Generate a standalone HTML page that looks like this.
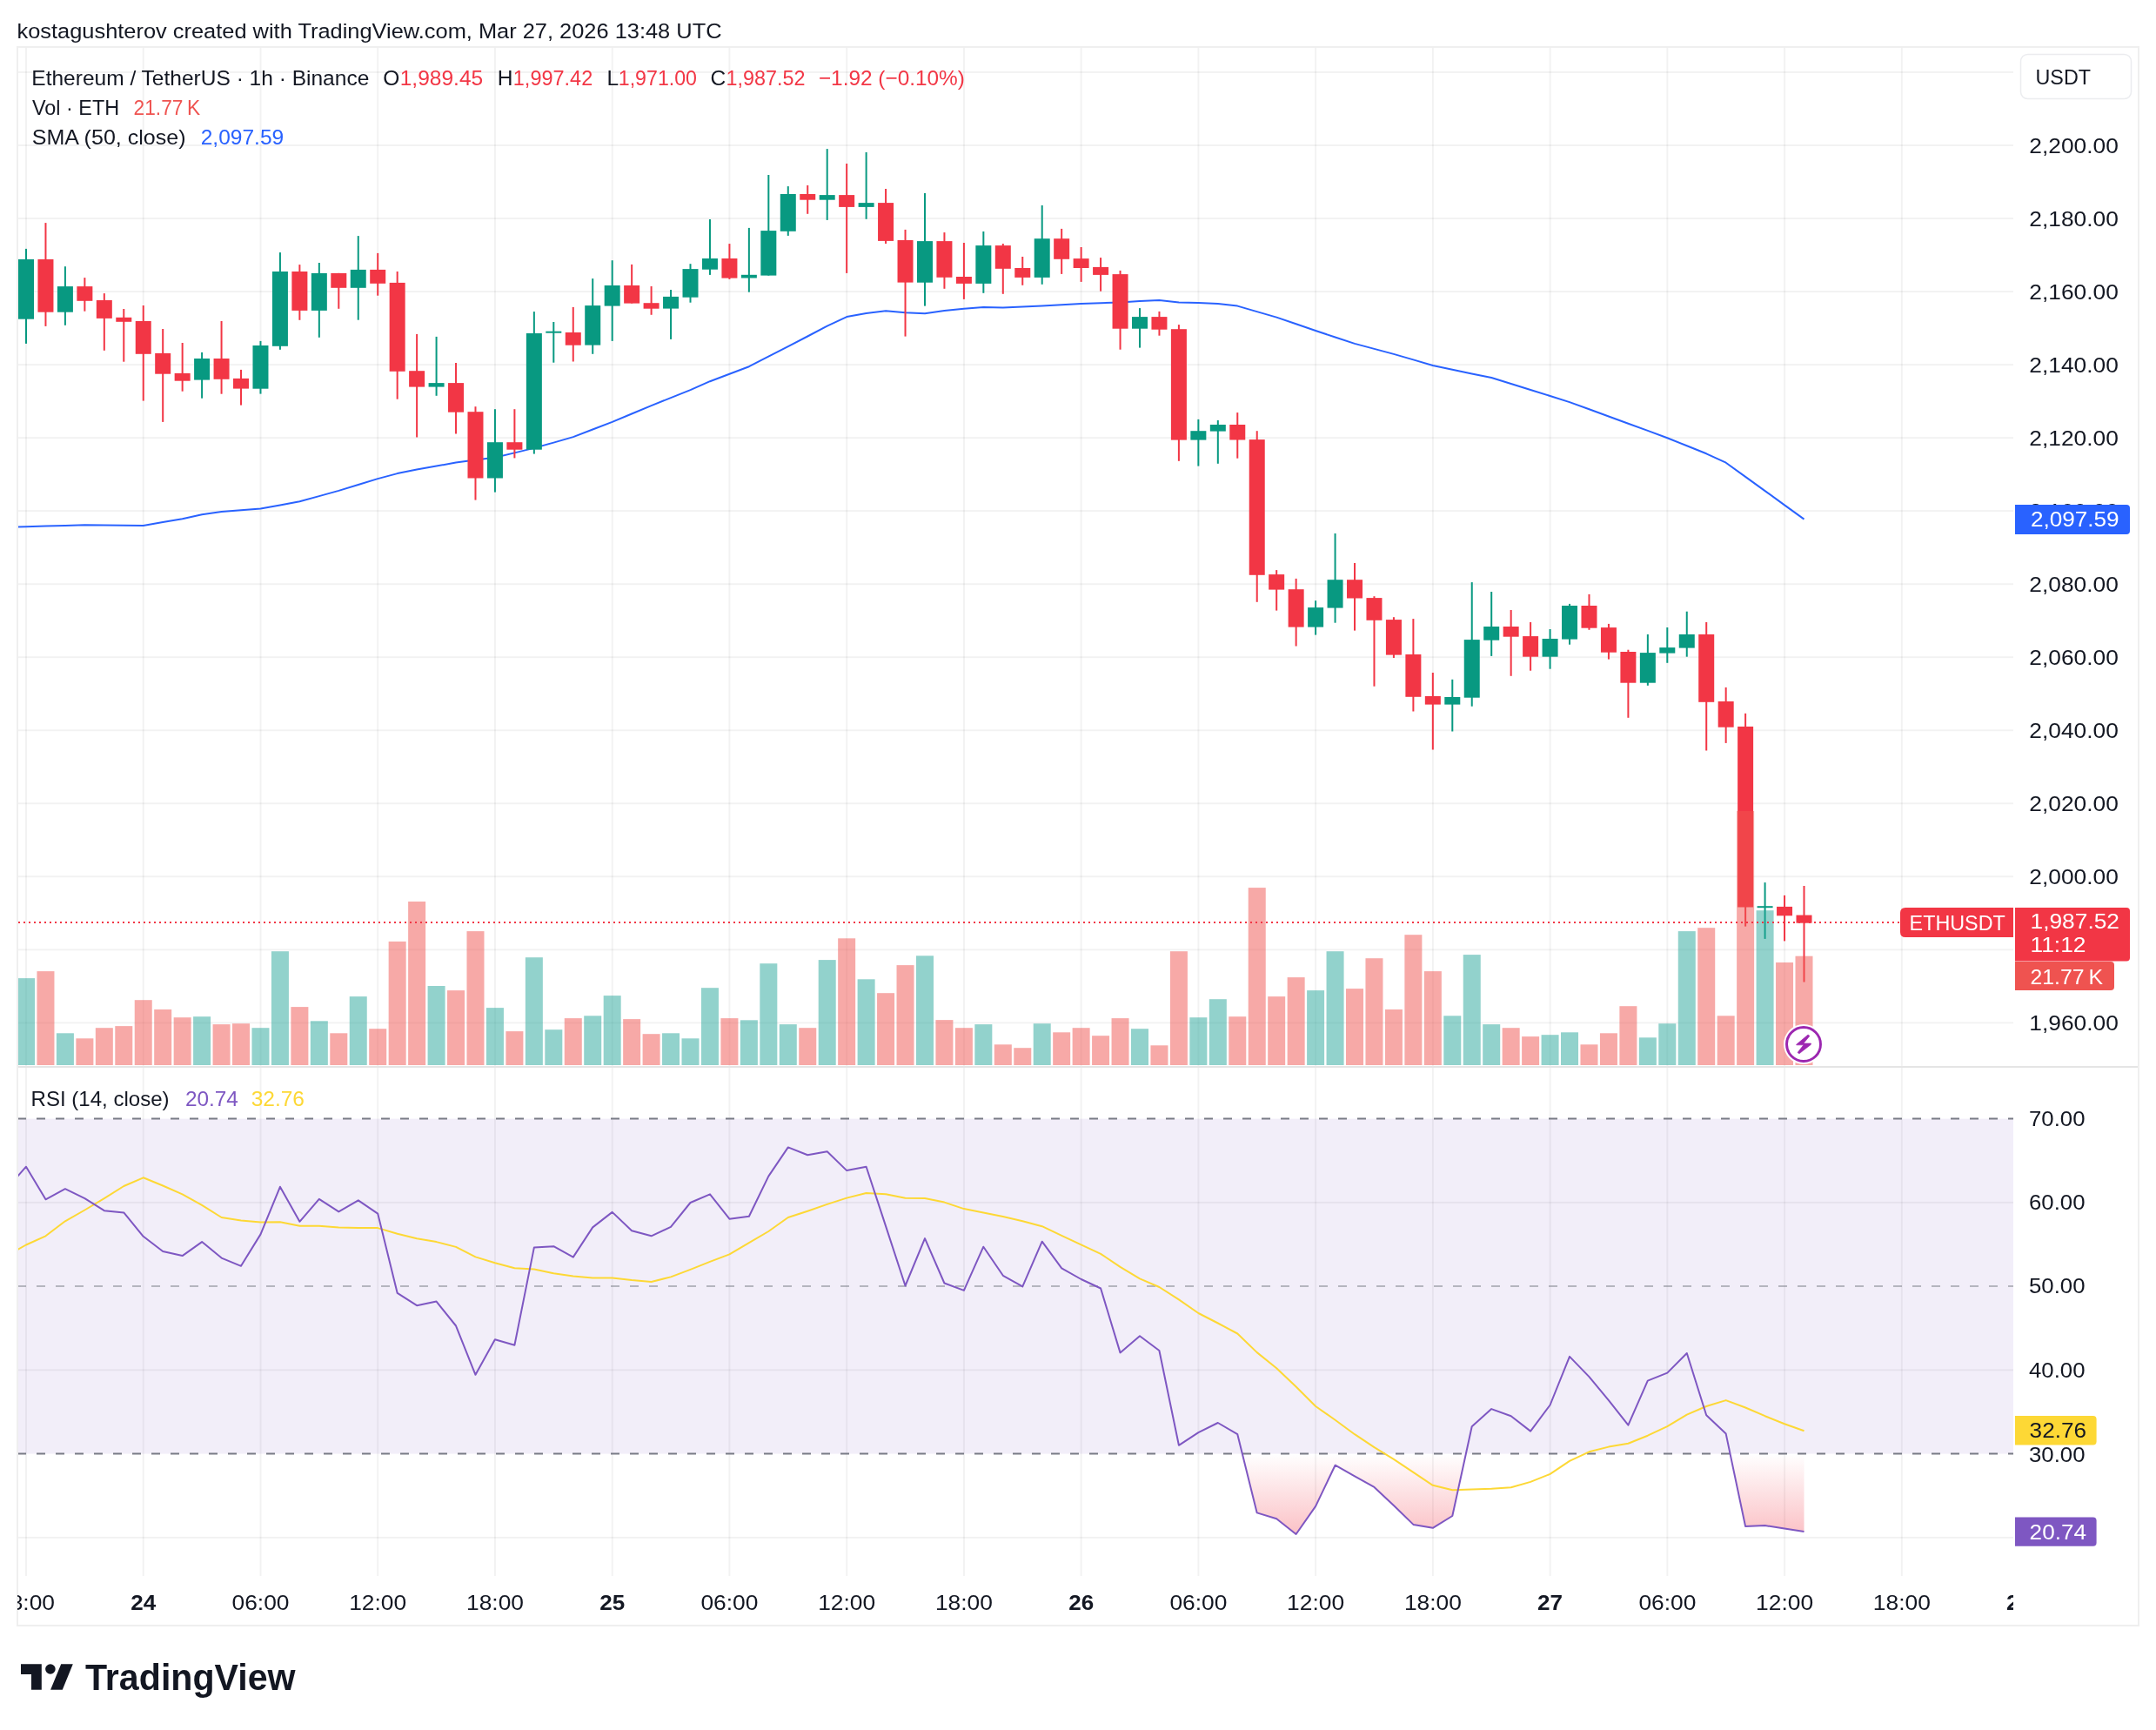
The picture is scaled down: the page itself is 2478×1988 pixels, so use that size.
<!DOCTYPE html><html><head><meta charset="utf-8"><style>html,body{margin:0;padding:0;background:#fff;}svg{display:block;font-family:"Liberation Sans", sans-serif;}</style></head><body>
<svg width="2478" height="1988" viewBox="0 0 2478 1988">
<rect x="0" y="0" width="2478" height="1988" fill="#ffffff"/>
<defs>
<clipPath id="cmain"><rect x="20" y="54" width="2294" height="1172"/></clipPath>
<clipPath id="crsi"><rect x="20" y="1226" width="2294" height="585"/></clipPath>
<clipPath id="ctime"><rect x="20" y="1811" width="2294" height="57"/></clipPath>
<clipPath id="cbelow30"><rect x="20" y="1670.9" width="2294" height="140.0999999999999"/></clipPath>
<linearGradient id="gpink" gradientUnits="userSpaceOnUse" x1="0" y1="1671" x2="0" y2="1767"><stop offset="0" stop-color="#f23645" stop-opacity="0"/><stop offset="1" stop-color="#f23645" stop-opacity="0.32"/></linearGradient>
</defs>
<rect x="29.00" y="54" width="2" height="1757" fill="rgba(0,0,0,0.052)"/>
<rect x="163.74" y="54" width="2" height="1757" fill="rgba(0,0,0,0.052)"/>
<rect x="298.48" y="54" width="2" height="1757" fill="rgba(0,0,0,0.052)"/>
<rect x="433.22" y="54" width="2" height="1757" fill="rgba(0,0,0,0.052)"/>
<rect x="567.96" y="54" width="2" height="1757" fill="rgba(0,0,0,0.052)"/>
<rect x="702.70" y="54" width="2" height="1757" fill="rgba(0,0,0,0.052)"/>
<rect x="837.44" y="54" width="2" height="1757" fill="rgba(0,0,0,0.052)"/>
<rect x="972.18" y="54" width="2" height="1757" fill="rgba(0,0,0,0.052)"/>
<rect x="1106.92" y="54" width="2" height="1757" fill="rgba(0,0,0,0.052)"/>
<rect x="1241.66" y="54" width="2" height="1757" fill="rgba(0,0,0,0.052)"/>
<rect x="1376.40" y="54" width="2" height="1757" fill="rgba(0,0,0,0.052)"/>
<rect x="1511.14" y="54" width="2" height="1757" fill="rgba(0,0,0,0.052)"/>
<rect x="1645.88" y="54" width="2" height="1757" fill="rgba(0,0,0,0.052)"/>
<rect x="1780.62" y="54" width="2" height="1757" fill="rgba(0,0,0,0.052)"/>
<rect x="1915.36" y="54" width="2" height="1757" fill="rgba(0,0,0,0.052)"/>
<rect x="2050.10" y="54" width="2" height="1757" fill="rgba(0,0,0,0.052)"/>
<rect x="2184.84" y="54" width="2" height="1757" fill="rgba(0,0,0,0.052)"/>
<rect x="20" y="81.97" width="2294" height="2" fill="rgba(0,0,0,0.052)"/>
<rect x="20" y="166.00" width="2294" height="2" fill="rgba(0,0,0,0.052)"/>
<rect x="20" y="250.03" width="2294" height="2" fill="rgba(0,0,0,0.052)"/>
<rect x="20" y="334.06" width="2294" height="2" fill="rgba(0,0,0,0.052)"/>
<rect x="20" y="418.09" width="2294" height="2" fill="rgba(0,0,0,0.052)"/>
<rect x="20" y="502.12" width="2294" height="2" fill="rgba(0,0,0,0.052)"/>
<rect x="20" y="586.15" width="2294" height="2" fill="rgba(0,0,0,0.052)"/>
<rect x="20" y="670.18" width="2294" height="2" fill="rgba(0,0,0,0.052)"/>
<rect x="20" y="754.21" width="2294" height="2" fill="rgba(0,0,0,0.052)"/>
<rect x="20" y="838.24" width="2294" height="2" fill="rgba(0,0,0,0.052)"/>
<rect x="20" y="922.27" width="2294" height="2" fill="rgba(0,0,0,0.052)"/>
<rect x="20" y="1006.30" width="2294" height="2" fill="rgba(0,0,0,0.052)"/>
<rect x="20" y="1090.33" width="2294" height="2" fill="rgba(0,0,0,0.052)"/>
<rect x="20" y="1174.36" width="2294" height="2" fill="rgba(0,0,0,0.052)"/>
<rect x="20" y="1380.85" width="2294" height="2" fill="rgba(0,0,0,0.052)"/>
<rect x="20" y="1573.35" width="2294" height="2" fill="rgba(0,0,0,0.052)"/>
<rect x="20" y="1765.85" width="2294" height="2" fill="rgba(0,0,0,0.052)"/>
<g clip-path="url(#cmain)">
<polyline points="7.5,605.9 30.0,605.2 52.5,604.6 74.9,603.9 97.4,603.2 119.8,603.5 142.3,603.8 164.7,604.0 187.2,600.1 209.6,596.2 232.1,591.3 254.6,587.9 277.0,586.3 299.5,584.6 321.9,580.4 344.4,576.3 366.8,570.1 389.3,563.9 411.8,557.0 434.2,550.1 456.7,544.1 479.1,539.6 501.6,535.6 524.0,531.5 546.5,528.6 568.9,525.8 591.4,520.4 613.9,514.9 636.3,508.6 658.8,502.1 681.2,493.5 703.7,484.9 726.1,475.5 748.6,466.1 771.0,457.1 793.5,448.1 816.0,438.2 838.4,429.7 860.9,421.2 883.3,409.7 905.8,398.2 928.2,386.5 950.7,374.7 973.2,364.1 995.6,360.1 1018.1,357.2 1040.5,359.3 1063.0,360.2 1085.4,357.1 1107.9,354.8 1130.3,353.1 1152.8,353.5 1175.3,352.5 1197.7,351.4 1220.2,350.2 1242.6,348.9 1265.1,348.2 1287.5,347.4 1310.0,346.1 1332.4,345.0 1354.9,347.4 1377.4,348.1 1399.8,348.9 1422.3,351.6 1444.7,358.1 1467.2,364.6 1489.6,372.3 1512.1,380.0 1534.6,387.5 1557.0,394.9 1579.5,400.9 1601.9,406.9 1624.4,413.4 1646.8,420.0 1669.3,424.8 1691.7,429.4 1714.2,434.0 1736.7,441.0 1759.1,448.0 1781.6,455.0 1804.0,462.1 1826.5,470.2 1848.9,478.5 1871.4,486.7 1893.8,494.9 1916.3,503.2 1938.8,512.3 1961.2,521.3 1983.7,531.7 2006.1,547.9 2028.6,564.1 2051.0,580.4 2073.5,596.6" fill="none" stroke="#2962ff" stroke-width="2" stroke-linejoin="round"/>
<rect x="29.00" y="285.9" width="2" height="109.0" fill="#089981"/>
<rect x="21.00" y="298.0" width="18" height="68.7" fill="#089981"/>
<rect x="51.46" y="256.1" width="2" height="118.8" fill="#f23645"/>
<rect x="43.46" y="298.0" width="18" height="60.7" fill="#f23645"/>
<rect x="73.91" y="306.2" width="2" height="67.6" fill="#089981"/>
<rect x="65.91" y="329.1" width="18" height="29.6" fill="#089981"/>
<rect x="96.37" y="319.1" width="2" height="38.6" fill="#f23645"/>
<rect x="88.37" y="329.1" width="18" height="16.7" fill="#f23645"/>
<rect x="118.82" y="337.1" width="2" height="65.7" fill="#f23645"/>
<rect x="110.82" y="345.0" width="18" height="20.9" fill="#f23645"/>
<rect x="141.28" y="355.0" width="2" height="60.7" fill="#f23645"/>
<rect x="133.28" y="364.8" width="18" height="5.0" fill="#f23645"/>
<rect x="163.74" y="351.0" width="2" height="109.6" fill="#f23645"/>
<rect x="155.74" y="369.0" width="18" height="37.8" fill="#f23645"/>
<rect x="186.19" y="378.0" width="2" height="106.9" fill="#f23645"/>
<rect x="178.19" y="405.9" width="18" height="23.8" fill="#f23645"/>
<rect x="208.65" y="394.0" width="2" height="55.7" fill="#f23645"/>
<rect x="200.65" y="428.9" width="18" height="8.8" fill="#f23645"/>
<rect x="231.10" y="404.9" width="2" height="52.8" fill="#089981"/>
<rect x="223.10" y="412.0" width="18" height="24.6" fill="#089981"/>
<rect x="253.56" y="369.0" width="2" height="83.7" fill="#f23645"/>
<rect x="245.56" y="412.0" width="18" height="23.8" fill="#f23645"/>
<rect x="276.02" y="424.9" width="2" height="40.7" fill="#f23645"/>
<rect x="268.02" y="434.9" width="18" height="11.7" fill="#f23645"/>
<rect x="298.47" y="391.9" width="2" height="60.7" fill="#089981"/>
<rect x="290.47" y="397.0" width="18" height="49.7" fill="#089981"/>
<rect x="320.93" y="290.1" width="2" height="111.7" fill="#089981"/>
<rect x="312.93" y="312.0" width="18" height="85.8" fill="#089981"/>
<rect x="343.38" y="304.1" width="2" height="63.7" fill="#f23645"/>
<rect x="335.38" y="312.0" width="18" height="44.9" fill="#f23645"/>
<rect x="365.84" y="302.0" width="2" height="85.8" fill="#089981"/>
<rect x="357.84" y="313.9" width="18" height="43.0" fill="#089981"/>
<rect x="388.30" y="313.9" width="2" height="40.9" fill="#f23645"/>
<rect x="380.30" y="313.9" width="18" height="16.9" fill="#f23645"/>
<rect x="410.75" y="271.1" width="2" height="96.6" fill="#089981"/>
<rect x="402.75" y="309.9" width="18" height="20.9" fill="#089981"/>
<rect x="433.21" y="290.9" width="2" height="48.8" fill="#f23645"/>
<rect x="425.21" y="309.9" width="18" height="15.9" fill="#f23645"/>
<rect x="455.66" y="312.0" width="2" height="146.7" fill="#f23645"/>
<rect x="447.66" y="324.9" width="18" height="101.9" fill="#f23645"/>
<rect x="478.12" y="383.9" width="2" height="118.6" fill="#f23645"/>
<rect x="470.12" y="426.2" width="18" height="18.4" fill="#f23645"/>
<rect x="500.58" y="386.9" width="2" height="67.9" fill="#089981"/>
<rect x="492.58" y="440.1" width="18" height="4.5" fill="#089981"/>
<rect x="523.03" y="417.0" width="2" height="81.5" fill="#f23645"/>
<rect x="515.03" y="440.1" width="18" height="33.6" fill="#f23645"/>
<rect x="545.49" y="467.2" width="2" height="107.4" fill="#f23645"/>
<rect x="537.49" y="473.2" width="18" height="76.3" fill="#f23645"/>
<rect x="567.94" y="470.2" width="2" height="95.4" fill="#089981"/>
<rect x="559.94" y="508.2" width="18" height="41.3" fill="#089981"/>
<rect x="590.40" y="470.2" width="2" height="56.2" fill="#f23645"/>
<rect x="582.40" y="508.2" width="18" height="8.5" fill="#f23645"/>
<rect x="612.86" y="358.1" width="2" height="163.5" fill="#089981"/>
<rect x="604.86" y="383.0" width="18" height="133.7" fill="#089981"/>
<rect x="635.31" y="370.0" width="2" height="46.7" fill="#089981"/>
<rect x="627.31" y="380.7" width="18" height="2.0" fill="#089981"/>
<rect x="657.77" y="352.9" width="2" height="62.6" fill="#f23645"/>
<rect x="649.77" y="382.0" width="18" height="14.7" fill="#f23645"/>
<rect x="680.22" y="320.1" width="2" height="86.7" fill="#089981"/>
<rect x="672.22" y="351.1" width="18" height="45.5" fill="#089981"/>
<rect x="702.68" y="299.2" width="2" height="92.7" fill="#089981"/>
<rect x="694.68" y="328.0" width="18" height="23.6" fill="#089981"/>
<rect x="725.14" y="303.9" width="2" height="44.7" fill="#f23645"/>
<rect x="717.14" y="328.0" width="18" height="20.6" fill="#f23645"/>
<rect x="747.59" y="329.0" width="2" height="32.8" fill="#f23645"/>
<rect x="739.59" y="348.2" width="18" height="6.5" fill="#f23645"/>
<rect x="770.05" y="333.0" width="2" height="56.9" fill="#089981"/>
<rect x="762.05" y="340.9" width="18" height="13.7" fill="#089981"/>
<rect x="792.50" y="303.2" width="2" height="44.5" fill="#089981"/>
<rect x="784.50" y="309.1" width="18" height="32.6" fill="#089981"/>
<rect x="814.96" y="252.0" width="2" height="63.9" fill="#089981"/>
<rect x="806.96" y="297.0" width="18" height="12.7" fill="#089981"/>
<rect x="837.42" y="280.1" width="2" height="40.8" fill="#f23645"/>
<rect x="829.42" y="297.0" width="18" height="22.6" fill="#f23645"/>
<rect x="859.87" y="261.9" width="2" height="73.8" fill="#089981"/>
<rect x="851.87" y="315.8" width="18" height="3.7" fill="#089981"/>
<rect x="882.33" y="201.0" width="2" height="115.6" fill="#089981"/>
<rect x="874.33" y="265.1" width="18" height="51.5" fill="#089981"/>
<rect x="904.78" y="214.1" width="2" height="56.8" fill="#089981"/>
<rect x="896.78" y="223.0" width="18" height="42.8" fill="#089981"/>
<rect x="927.24" y="213.0" width="2" height="32.8" fill="#f23645"/>
<rect x="919.24" y="223.0" width="18" height="6.7" fill="#f23645"/>
<rect x="949.70" y="171.1" width="2" height="81.8" fill="#089981"/>
<rect x="941.70" y="224.1" width="18" height="5.6" fill="#089981"/>
<rect x="972.15" y="188.0" width="2" height="125.9" fill="#f23645"/>
<rect x="964.15" y="224.1" width="18" height="13.8" fill="#f23645"/>
<rect x="994.61" y="175.0" width="2" height="76.8" fill="#089981"/>
<rect x="986.61" y="233.1" width="18" height="4.8" fill="#089981"/>
<rect x="1017.06" y="217.0" width="2" height="63.0" fill="#f23645"/>
<rect x="1009.06" y="233.1" width="18" height="43.8" fill="#f23645"/>
<rect x="1039.52" y="263.9" width="2" height="122.7" fill="#f23645"/>
<rect x="1031.52" y="276.0" width="18" height="48.6" fill="#f23645"/>
<rect x="1061.98" y="222.0" width="2" height="129.6" fill="#089981"/>
<rect x="1053.98" y="277.1" width="18" height="47.6" fill="#089981"/>
<rect x="1084.43" y="267.1" width="2" height="64.7" fill="#f23645"/>
<rect x="1076.43" y="277.1" width="18" height="41.7" fill="#f23645"/>
<rect x="1106.89" y="279.0" width="2" height="64.9" fill="#f23645"/>
<rect x="1098.89" y="318.0" width="18" height="7.9" fill="#f23645"/>
<rect x="1129.34" y="266.0" width="2" height="70.8" fill="#089981"/>
<rect x="1121.34" y="282.1" width="18" height="43.8" fill="#089981"/>
<rect x="1151.80" y="280.0" width="2" height="57.8" fill="#f23645"/>
<rect x="1143.80" y="282.1" width="18" height="26.7" fill="#f23645"/>
<rect x="1174.26" y="295.0" width="2" height="32.8" fill="#f23645"/>
<rect x="1166.26" y="308.0" width="18" height="10.9" fill="#f23645"/>
<rect x="1196.71" y="236.0" width="2" height="90.8" fill="#089981"/>
<rect x="1188.71" y="274.2" width="18" height="44.7" fill="#089981"/>
<rect x="1219.17" y="262.9" width="2" height="52.0" fill="#f23645"/>
<rect x="1211.17" y="274.2" width="18" height="23.6" fill="#f23645"/>
<rect x="1241.62" y="284.0" width="2" height="39.9" fill="#f23645"/>
<rect x="1233.62" y="297.1" width="18" height="10.9" fill="#f23645"/>
<rect x="1264.08" y="296.1" width="2" height="38.6" fill="#f23645"/>
<rect x="1256.08" y="306.9" width="18" height="9.0" fill="#f23645"/>
<rect x="1286.54" y="310.9" width="2" height="90.8" fill="#f23645"/>
<rect x="1278.54" y="315.1" width="18" height="62.6" fill="#f23645"/>
<rect x="1308.99" y="354.1" width="2" height="45.5" fill="#089981"/>
<rect x="1300.99" y="364.1" width="18" height="13.6" fill="#089981"/>
<rect x="1331.45" y="357.9" width="2" height="27.8" fill="#f23645"/>
<rect x="1323.45" y="364.1" width="18" height="14.6" fill="#f23645"/>
<rect x="1353.90" y="373.1" width="2" height="156.7" fill="#f23645"/>
<rect x="1345.90" y="378.2" width="18" height="127.4" fill="#f23645"/>
<rect x="1376.36" y="481.9" width="2" height="53.7" fill="#089981"/>
<rect x="1368.36" y="495.2" width="18" height="10.4" fill="#089981"/>
<rect x="1398.82" y="483.0" width="2" height="49.8" fill="#089981"/>
<rect x="1390.82" y="488.0" width="18" height="7.6" fill="#089981"/>
<rect x="1421.27" y="474.1" width="2" height="52.6" fill="#f23645"/>
<rect x="1413.27" y="488.0" width="18" height="17.5" fill="#f23645"/>
<rect x="1443.73" y="495.2" width="2" height="196.6" fill="#f23645"/>
<rect x="1435.73" y="505.1" width="18" height="155.7" fill="#f23645"/>
<rect x="1466.18" y="655.1" width="2" height="46.5" fill="#f23645"/>
<rect x="1458.18" y="660.1" width="18" height="17.5" fill="#f23645"/>
<rect x="1488.64" y="664.9" width="2" height="77.6" fill="#f23645"/>
<rect x="1480.64" y="677.2" width="18" height="43.4" fill="#f23645"/>
<rect x="1511.10" y="690.2" width="2" height="39.4" fill="#089981"/>
<rect x="1503.10" y="698.1" width="18" height="22.5" fill="#089981"/>
<rect x="1533.55" y="613.0" width="2" height="102.7" fill="#089981"/>
<rect x="1525.55" y="666.2" width="18" height="32.4" fill="#089981"/>
<rect x="1556.01" y="647.0" width="2" height="77.6" fill="#f23645"/>
<rect x="1548.01" y="666.2" width="18" height="21.3" fill="#f23645"/>
<rect x="1578.46" y="685.2" width="2" height="103.5" fill="#f23645"/>
<rect x="1570.46" y="687.1" width="18" height="25.7" fill="#f23645"/>
<rect x="1600.92" y="709.2" width="2" height="46.8" fill="#f23645"/>
<rect x="1592.92" y="712.1" width="18" height="40.5" fill="#f23645"/>
<rect x="1623.38" y="711.1" width="2" height="106.4" fill="#f23645"/>
<rect x="1615.38" y="752.0" width="18" height="48.8" fill="#f23645"/>
<rect x="1645.83" y="773.0" width="2" height="88.5" fill="#f23645"/>
<rect x="1637.83" y="800.0" width="18" height="9.6" fill="#f23645"/>
<rect x="1668.29" y="780.8" width="2" height="59.7" fill="#089981"/>
<rect x="1660.29" y="801.0" width="18" height="8.6" fill="#089981"/>
<rect x="1690.74" y="669.1" width="2" height="142.6" fill="#089981"/>
<rect x="1682.74" y="735.1" width="18" height="66.6" fill="#089981"/>
<rect x="1713.20" y="680.0" width="2" height="73.9" fill="#089981"/>
<rect x="1705.20" y="720.0" width="18" height="15.7" fill="#089981"/>
<rect x="1735.66" y="701.0" width="2" height="75.8" fill="#f23645"/>
<rect x="1727.66" y="720.0" width="18" height="11.7" fill="#f23645"/>
<rect x="1758.11" y="715.0" width="2" height="55.7" fill="#f23645"/>
<rect x="1750.11" y="731.1" width="18" height="23.6" fill="#f23645"/>
<rect x="1780.57" y="723.0" width="2" height="45.7" fill="#089981"/>
<rect x="1772.57" y="734.0" width="18" height="20.7" fill="#089981"/>
<rect x="1803.02" y="693.9" width="2" height="46.8" fill="#089981"/>
<rect x="1795.02" y="696.0" width="18" height="38.6" fill="#089981"/>
<rect x="1825.48" y="682.9" width="2" height="40.9" fill="#f23645"/>
<rect x="1817.48" y="696.0" width="18" height="25.7" fill="#f23645"/>
<rect x="1847.94" y="716.9" width="2" height="40.7" fill="#f23645"/>
<rect x="1839.94" y="721.1" width="18" height="28.6" fill="#f23645"/>
<rect x="1870.39" y="746.7" width="2" height="78.1" fill="#f23645"/>
<rect x="1862.39" y="749.0" width="18" height="35.7" fill="#f23645"/>
<rect x="1892.85" y="729.0" width="2" height="58.8" fill="#089981"/>
<rect x="1884.85" y="750.1" width="18" height="34.6" fill="#089981"/>
<rect x="1915.30" y="721.0" width="2" height="40.8" fill="#089981"/>
<rect x="1907.30" y="744.1" width="18" height="6.5" fill="#089981"/>
<rect x="1937.76" y="702.7" width="2" height="52.0" fill="#089981"/>
<rect x="1929.76" y="729.0" width="18" height="15.6" fill="#089981"/>
<rect x="1960.22" y="715.0" width="2" height="147.5" fill="#f23645"/>
<rect x="1952.22" y="729.0" width="18" height="77.8" fill="#f23645"/>
<rect x="1982.67" y="789.9" width="2" height="64.0" fill="#f23645"/>
<rect x="1974.67" y="806.0" width="18" height="29.7" fill="#f23645"/>
<rect x="2005.13" y="819.8" width="2" height="244.8" fill="#f23645"/>
<rect x="1997.13" y="834.9" width="18" height="207.6" fill="#f23645"/>
<rect x="2027.58" y="1014.1" width="2" height="64.8" fill="#089981"/>
<rect x="2019.58" y="1041.2" width="18" height="2.0" fill="#089981"/>
<rect x="2050.04" y="1028.9" width="2" height="52.5" fill="#f23645"/>
<rect x="2042.04" y="1041.9" width="18" height="10.4" fill="#f23645"/>
<rect x="2072.50" y="1018.0" width="2" height="110.5" fill="#f23645"/>
<rect x="2064.50" y="1051.6" width="18" height="9.1" fill="#f23645"/>
<rect x="20.00" y="1124.1" width="20" height="99.9" fill="rgba(38,166,154,0.5)"/>
<rect x="42.46" y="1116.1" width="20" height="107.9" fill="rgba(239,83,80,0.5)"/>
<rect x="64.91" y="1187.3" width="20" height="36.7" fill="rgba(38,166,154,0.5)"/>
<rect x="87.37" y="1193.3" width="20" height="30.7" fill="rgba(239,83,80,0.5)"/>
<rect x="109.82" y="1181.2" width="20" height="42.8" fill="rgba(239,83,80,0.5)"/>
<rect x="132.28" y="1179.1" width="20" height="44.9" fill="rgba(239,83,80,0.5)"/>
<rect x="154.74" y="1149.2" width="20" height="74.8" fill="rgba(239,83,80,0.5)"/>
<rect x="177.19" y="1160.0" width="20" height="64.0" fill="rgba(239,83,80,0.5)"/>
<rect x="199.65" y="1169.2" width="20" height="54.8" fill="rgba(239,83,80,0.5)"/>
<rect x="222.10" y="1168.2" width="20" height="55.8" fill="rgba(38,166,154,0.5)"/>
<rect x="244.56" y="1177.1" width="20" height="46.9" fill="rgba(239,83,80,0.5)"/>
<rect x="267.02" y="1176.2" width="20" height="47.8" fill="rgba(239,83,80,0.5)"/>
<rect x="289.47" y="1181.2" width="20" height="42.8" fill="rgba(38,166,154,0.5)"/>
<rect x="311.93" y="1093.2" width="20" height="130.8" fill="rgba(38,166,154,0.5)"/>
<rect x="334.38" y="1157.1" width="20" height="66.9" fill="rgba(239,83,80,0.5)"/>
<rect x="356.84" y="1173.3" width="20" height="50.7" fill="rgba(38,166,154,0.5)"/>
<rect x="379.30" y="1187.3" width="20" height="36.7" fill="rgba(239,83,80,0.5)"/>
<rect x="401.75" y="1145.1" width="20" height="78.9" fill="rgba(38,166,154,0.5)"/>
<rect x="424.21" y="1182.2" width="20" height="41.8" fill="rgba(239,83,80,0.5)"/>
<rect x="446.66" y="1081.9" width="20" height="142.1" fill="rgba(239,83,80,0.5)"/>
<rect x="469.12" y="1036.0" width="20" height="188.0" fill="rgba(239,83,80,0.5)"/>
<rect x="491.58" y="1133.0" width="20" height="91.0" fill="rgba(38,166,154,0.5)"/>
<rect x="514.03" y="1138.1" width="20" height="85.9" fill="rgba(239,83,80,0.5)"/>
<rect x="536.49" y="1070.1" width="20" height="153.9" fill="rgba(239,83,80,0.5)"/>
<rect x="558.94" y="1158.1" width="20" height="65.9" fill="rgba(38,166,154,0.5)"/>
<rect x="581.40" y="1185.1" width="20" height="38.9" fill="rgba(239,83,80,0.5)"/>
<rect x="603.86" y="1100.2" width="20" height="123.8" fill="rgba(38,166,154,0.5)"/>
<rect x="626.31" y="1183.2" width="20" height="40.8" fill="rgba(38,166,154,0.5)"/>
<rect x="648.77" y="1170.1" width="20" height="53.9" fill="rgba(239,83,80,0.5)"/>
<rect x="671.22" y="1167.3" width="20" height="56.7" fill="rgba(38,166,154,0.5)"/>
<rect x="693.68" y="1144.1" width="20" height="79.9" fill="rgba(38,166,154,0.5)"/>
<rect x="716.14" y="1171.1" width="20" height="52.9" fill="rgba(239,83,80,0.5)"/>
<rect x="738.59" y="1188.2" width="20" height="35.8" fill="rgba(239,83,80,0.5)"/>
<rect x="761.05" y="1187.3" width="20" height="36.7" fill="rgba(38,166,154,0.5)"/>
<rect x="783.50" y="1193.3" width="20" height="30.7" fill="rgba(38,166,154,0.5)"/>
<rect x="805.96" y="1135.2" width="20" height="88.8" fill="rgba(38,166,154,0.5)"/>
<rect x="828.42" y="1170.1" width="20" height="53.9" fill="rgba(239,83,80,0.5)"/>
<rect x="850.87" y="1172.3" width="20" height="51.7" fill="rgba(38,166,154,0.5)"/>
<rect x="873.33" y="1107.2" width="20" height="116.8" fill="rgba(38,166,154,0.5)"/>
<rect x="895.78" y="1177.1" width="20" height="46.9" fill="rgba(38,166,154,0.5)"/>
<rect x="918.24" y="1181.2" width="20" height="42.8" fill="rgba(239,83,80,0.5)"/>
<rect x="940.70" y="1103.1" width="20" height="120.9" fill="rgba(38,166,154,0.5)"/>
<rect x="963.15" y="1078.3" width="20" height="145.7" fill="rgba(239,83,80,0.5)"/>
<rect x="985.61" y="1125.3" width="20" height="98.7" fill="rgba(38,166,154,0.5)"/>
<rect x="1008.06" y="1141.2" width="20" height="82.8" fill="rgba(239,83,80,0.5)"/>
<rect x="1030.52" y="1109.1" width="20" height="114.9" fill="rgba(239,83,80,0.5)"/>
<rect x="1052.98" y="1098.3" width="20" height="125.7" fill="rgba(38,166,154,0.5)"/>
<rect x="1075.43" y="1172.1" width="20" height="51.9" fill="rgba(239,83,80,0.5)"/>
<rect x="1097.89" y="1181.2" width="20" height="42.8" fill="rgba(239,83,80,0.5)"/>
<rect x="1120.34" y="1177.1" width="20" height="46.9" fill="rgba(38,166,154,0.5)"/>
<rect x="1142.80" y="1200.3" width="20" height="23.7" fill="rgba(239,83,80,0.5)"/>
<rect x="1165.26" y="1204.2" width="20" height="19.8" fill="rgba(239,83,80,0.5)"/>
<rect x="1187.71" y="1176.2" width="20" height="47.8" fill="rgba(38,166,154,0.5)"/>
<rect x="1210.17" y="1186.3" width="20" height="37.7" fill="rgba(239,83,80,0.5)"/>
<rect x="1232.62" y="1181.2" width="20" height="42.8" fill="rgba(239,83,80,0.5)"/>
<rect x="1255.08" y="1190.2" width="20" height="33.8" fill="rgba(239,83,80,0.5)"/>
<rect x="1277.54" y="1170.1" width="20" height="53.9" fill="rgba(239,83,80,0.5)"/>
<rect x="1299.99" y="1182.2" width="20" height="41.8" fill="rgba(38,166,154,0.5)"/>
<rect x="1322.45" y="1201.3" width="20" height="22.7" fill="rgba(239,83,80,0.5)"/>
<rect x="1344.90" y="1093.2" width="20" height="130.8" fill="rgba(239,83,80,0.5)"/>
<rect x="1367.36" y="1169.2" width="20" height="54.8" fill="rgba(38,166,154,0.5)"/>
<rect x="1389.82" y="1148.2" width="20" height="75.8" fill="rgba(38,166,154,0.5)"/>
<rect x="1412.27" y="1168.2" width="20" height="55.8" fill="rgba(239,83,80,0.5)"/>
<rect x="1434.73" y="1020.1" width="20" height="203.9" fill="rgba(239,83,80,0.5)"/>
<rect x="1457.18" y="1145.1" width="20" height="78.9" fill="rgba(239,83,80,0.5)"/>
<rect x="1479.64" y="1123.1" width="20" height="100.9" fill="rgba(239,83,80,0.5)"/>
<rect x="1502.10" y="1138.1" width="20" height="85.9" fill="rgba(38,166,154,0.5)"/>
<rect x="1524.55" y="1093.2" width="20" height="130.8" fill="rgba(38,166,154,0.5)"/>
<rect x="1547.01" y="1136.1" width="20" height="87.9" fill="rgba(239,83,80,0.5)"/>
<rect x="1569.46" y="1101.2" width="20" height="122.8" fill="rgba(239,83,80,0.5)"/>
<rect x="1591.92" y="1160.0" width="20" height="64.0" fill="rgba(239,83,80,0.5)"/>
<rect x="1614.38" y="1074.2" width="20" height="149.8" fill="rgba(239,83,80,0.5)"/>
<rect x="1636.83" y="1116.1" width="20" height="107.9" fill="rgba(239,83,80,0.5)"/>
<rect x="1659.29" y="1167.3" width="20" height="56.7" fill="rgba(38,166,154,0.5)"/>
<rect x="1681.74" y="1097.1" width="20" height="126.9" fill="rgba(38,166,154,0.5)"/>
<rect x="1704.20" y="1177.1" width="20" height="46.9" fill="rgba(38,166,154,0.5)"/>
<rect x="1726.66" y="1181.2" width="20" height="42.8" fill="rgba(239,83,80,0.5)"/>
<rect x="1749.11" y="1191.1" width="20" height="32.9" fill="rgba(239,83,80,0.5)"/>
<rect x="1771.57" y="1189.2" width="20" height="34.8" fill="rgba(38,166,154,0.5)"/>
<rect x="1794.02" y="1186.3" width="20" height="37.7" fill="rgba(38,166,154,0.5)"/>
<rect x="1816.48" y="1200.3" width="20" height="23.7" fill="rgba(239,83,80,0.5)"/>
<rect x="1838.94" y="1187.3" width="20" height="36.7" fill="rgba(239,83,80,0.5)"/>
<rect x="1861.39" y="1156.2" width="20" height="67.8" fill="rgba(239,83,80,0.5)"/>
<rect x="1883.85" y="1192.3" width="20" height="31.7" fill="rgba(38,166,154,0.5)"/>
<rect x="1906.30" y="1176.2" width="20" height="47.8" fill="rgba(38,166,154,0.5)"/>
<rect x="1928.76" y="1070.1" width="20" height="153.9" fill="rgba(38,166,154,0.5)"/>
<rect x="1951.22" y="1066.2" width="20" height="157.8" fill="rgba(239,83,80,0.5)"/>
<rect x="1973.67" y="1167.3" width="20" height="56.7" fill="rgba(239,83,80,0.5)"/>
<rect x="1996.13" y="932.0" width="20" height="292.0" fill="rgba(239,83,80,0.5)"/>
<rect x="2018.58" y="1046.2" width="20" height="177.8" fill="rgba(38,166,154,0.5)"/>
<rect x="2041.04" y="1106.0" width="20" height="118.0" fill="rgba(239,83,80,0.5)"/>
<rect x="2063.50" y="1098.7" width="20" height="125.3" fill="rgba(239,83,80,0.5)"/>
<line x1="20" y1="1060" x2="2314" y2="1060" stroke="#f23645" stroke-width="2" stroke-dasharray="2 4" stroke-dashoffset="-1"/>
</g>
<g clip-path="url(#crsi)">
<rect x="20" y="1285.6" width="2294" height="385.0" fill="#7e57c2" fill-opacity="0.1"/>
<polygon points="30.0,1340.7 52.5,1378.3 74.9,1366.2 97.4,1377.1 119.8,1391.2 142.3,1393.4 164.7,1420.8 187.2,1438.0 209.6,1443.1 232.1,1427.1 254.6,1445.6 277.0,1454.8 299.5,1418.4 321.9,1363.8 344.4,1403.8 366.8,1377.8 389.3,1392.4 411.8,1379.3 434.2,1394.6 456.7,1485.9 479.1,1500.2 501.6,1495.6 524.0,1523.5 546.5,1579.8 568.9,1539.3 591.4,1545.8 613.9,1433.4 636.3,1432.2 658.8,1444.6 681.2,1410.4 703.7,1392.9 726.1,1414.3 748.6,1420.3 771.0,1409.9 793.5,1382.0 816.0,1372.3 838.4,1400.7 860.9,1397.7 883.3,1351.6 905.8,1318.4 928.2,1327.3 950.7,1323.2 973.2,1345.1 995.6,1340.7 1018.1,1409.1 1040.5,1477.5 1063.0,1423.1 1085.4,1474.5 1107.9,1482.9 1130.3,1432.7 1152.8,1465.8 1175.3,1478.4 1197.7,1426.7 1220.2,1457.3 1242.6,1470.0 1265.1,1480.5 1287.5,1554.4 1310.0,1535.2 1332.4,1552.0 1354.9,1660.8 1377.4,1646.1 1399.8,1635.0 1422.3,1648.2 1444.7,1738.4 1467.2,1745.3 1489.6,1763.0 1512.1,1730.9 1534.6,1683.7 1557.0,1696.3 1579.5,1708.9 1601.9,1730.0 1624.4,1751.9 1646.8,1755.8 1669.3,1742.0 1691.7,1639.2 1714.2,1619.1 1736.7,1627.2 1759.1,1644.6 1781.6,1614.5 1804.0,1558.9 1826.5,1582.1 1848.9,1609.1 1871.4,1637.7 1893.8,1586.6 1916.3,1577.6 1938.8,1555.0 1961.2,1626.3 1983.7,1647.6 2006.1,1754.0 2028.6,1753.1 2051.0,1756.4 2073.5,1760.0 2073.5,1670.9 30.0,1670.9" fill="url(#gpink)" clip-path="url(#cbelow30)"/>
<line x1="20" y1="1285.6" x2="2314" y2="1285.6" stroke="#787b86" stroke-width="2" stroke-dasharray="10 12"/>
<line x1="20" y1="1478.1" x2="2314" y2="1478.1" stroke="rgba(120,123,134,0.5)" stroke-width="2" stroke-dasharray="10 12"/>
<line x1="20" y1="1670.6" x2="2314" y2="1670.6" stroke="#787b86" stroke-width="2" stroke-dasharray="10 12"/>
<polyline points="7.5,1443.0 30.0,1430.5 52.5,1420.3 74.9,1403.3 97.4,1390.5 119.8,1377.1 142.3,1363.0 164.7,1353.3 187.2,1362.5 209.6,1372.3 232.1,1384.9 254.6,1399.0 277.0,1402.6 299.5,1404.5 321.9,1404.3 344.4,1408.7 366.8,1408.7 389.3,1410.6 411.8,1411.1 434.2,1411.1 456.7,1417.7 479.1,1423.2 501.6,1427.1 524.0,1432.9 546.5,1444.4 568.9,1451.2 591.4,1457.2 613.9,1458.4 636.3,1463.3 658.8,1466.5 681.2,1468.4 703.7,1468.6 726.1,1471.1 748.6,1473.0 771.0,1467.4 793.5,1458.9 816.0,1449.9 838.4,1441.4 860.9,1428.1 883.3,1415.0 905.8,1399.0 928.2,1391.7 950.7,1383.9 973.2,1376.6 995.6,1371.0 1018.1,1372.3 1040.5,1376.8 1063.0,1377.1 1085.4,1381.6 1107.9,1389.1 1130.3,1393.6 1152.8,1398.1 1175.3,1403.2 1197.7,1409.2 1220.2,1419.8 1242.6,1430.3 1265.1,1440.8 1287.5,1455.8 1310.0,1469.4 1332.4,1479.0 1354.9,1493.4 1377.4,1509.0 1399.8,1520.5 1422.3,1532.5 1444.7,1554.1 1467.2,1572.2 1489.6,1593.5 1512.1,1616.0 1534.6,1631.7 1557.0,1648.2 1579.5,1663.2 1601.9,1676.8 1624.4,1691.8 1646.8,1706.8 1669.3,1712.2 1691.7,1711.6 1714.2,1710.7 1736.7,1709.2 1759.1,1702.9 1781.6,1693.9 1804.0,1678.9 1826.5,1668.3 1848.9,1662.6 1871.4,1658.7 1893.8,1649.7 1916.3,1639.2 1938.8,1625.7 1961.2,1616.0 1983.7,1609.1 2006.1,1617.5 2028.6,1627.2 2051.0,1636.2 2073.5,1644.3" fill="none" stroke="#fdd835" stroke-width="2" stroke-linejoin="round"/>
<polyline points="7.5,1366.0 30.0,1340.7 52.5,1378.3 74.9,1366.2 97.4,1377.1 119.8,1391.2 142.3,1393.4 164.7,1420.8 187.2,1438.0 209.6,1443.1 232.1,1427.1 254.6,1445.6 277.0,1454.8 299.5,1418.4 321.9,1363.8 344.4,1403.8 366.8,1377.8 389.3,1392.4 411.8,1379.3 434.2,1394.6 456.7,1485.9 479.1,1500.2 501.6,1495.6 524.0,1523.5 546.5,1579.8 568.9,1539.3 591.4,1545.8 613.9,1433.4 636.3,1432.2 658.8,1444.6 681.2,1410.4 703.7,1392.9 726.1,1414.3 748.6,1420.3 771.0,1409.9 793.5,1382.0 816.0,1372.3 838.4,1400.7 860.9,1397.7 883.3,1351.6 905.8,1318.4 928.2,1327.3 950.7,1323.2 973.2,1345.1 995.6,1340.7 1018.1,1409.1 1040.5,1477.5 1063.0,1423.1 1085.4,1474.5 1107.9,1482.9 1130.3,1432.7 1152.8,1465.8 1175.3,1478.4 1197.7,1426.7 1220.2,1457.3 1242.6,1470.0 1265.1,1480.5 1287.5,1554.4 1310.0,1535.2 1332.4,1552.0 1354.9,1660.8 1377.4,1646.1 1399.8,1635.0 1422.3,1648.2 1444.7,1738.4 1467.2,1745.3 1489.6,1763.0 1512.1,1730.9 1534.6,1683.7 1557.0,1696.3 1579.5,1708.9 1601.9,1730.0 1624.4,1751.9 1646.8,1755.8 1669.3,1742.0 1691.7,1639.2 1714.2,1619.1 1736.7,1627.2 1759.1,1644.6 1781.6,1614.5 1804.0,1558.9 1826.5,1582.1 1848.9,1609.1 1871.4,1637.7 1893.8,1586.6 1916.3,1577.6 1938.8,1555.0 1961.2,1626.3 1983.7,1647.6 2006.1,1754.0 2028.6,1753.1 2051.0,1756.4 2073.5,1760.0" fill="none" stroke="#7e57c2" stroke-width="2" stroke-linejoin="round"/>
</g>
<rect x="20" y="1225" width="2438" height="2" fill="#e5e5e5"/>
<rect x="20" y="54" width="2438" height="1814" fill="none" stroke="#efefef" stroke-width="2"/>
<g font-family='"Liberation Sans", sans-serif' opacity="0.999">
<text x="19.5" y="44.0" font-size="24.5" fill="#131722" text-anchor="start" textLength="810.0" lengthAdjust="spacingAndGlyphs">kostagushterov created with TradingView.com, Mar 27, 2026 13:48 UTC</text>
<text x="36.3" y="97.6" font-size="24.5" fill="#131722" text-anchor="start" textLength="388.0" lengthAdjust="spacingAndGlyphs">Ethereum / TetherUS · 1h · Binance</text>
<text x="440.3" y="97.6" font-size="24.5" fill="#131722" text-anchor="start">O</text>
<text x="459.7" y="97.6" font-size="24.5" fill="#f23645" text-anchor="start" textLength="95.5" lengthAdjust="spacingAndGlyphs">1,989.45</text>
<text x="571.7" y="97.6" font-size="24.5" fill="#131722" text-anchor="start">H</text>
<text x="589.8" y="97.6" font-size="24.5" fill="#f23645" text-anchor="start" textLength="91.4" lengthAdjust="spacingAndGlyphs">1,997.42</text>
<text x="697.4" y="97.6" font-size="24.5" fill="#131722" text-anchor="start">L</text>
<text x="710.8" y="97.6" font-size="24.5" fill="#f23645" text-anchor="start" textLength="90.2" lengthAdjust="spacingAndGlyphs">1,971.00</text>
<text x="816.6" y="97.6" font-size="24.5" fill="#131722" text-anchor="start">C</text>
<text x="834.6" y="97.6" font-size="24.5" fill="#f23645" text-anchor="start" textLength="90.9" lengthAdjust="spacingAndGlyphs">1,987.52</text>
<text x="940.9" y="97.6" font-size="24.5" fill="#f23645" text-anchor="start" textLength="168.0" lengthAdjust="spacingAndGlyphs">−1.92 (−0.10%)</text>
<text x="37.0" y="131.8" font-size="24.5" fill="#131722" text-anchor="start" textLength="100.2" lengthAdjust="spacingAndGlyphs">Vol · ETH</text>
<text x="153.6" y="131.8" font-size="24.5" fill="#ef5350" text-anchor="start" textLength="76.5" lengthAdjust="spacingAndGlyphs">21.77 K</text>
<text x="36.8" y="165.8" font-size="24.5" fill="#131722" text-anchor="start" textLength="176.7" lengthAdjust="spacingAndGlyphs">SMA (50, close)</text>
<text x="230.7" y="165.8" font-size="24.5" fill="#2962ff" text-anchor="start" textLength="95.5" lengthAdjust="spacingAndGlyphs">2,097.59</text>
<text x="35.6" y="1271.0" font-size="24.5" fill="#131722" text-anchor="start" textLength="159.0" lengthAdjust="spacingAndGlyphs">RSI (14, close)</text>
<text x="212.9" y="1271.0" font-size="24.5" fill="#7e57c2" text-anchor="start" textLength="61.0" lengthAdjust="spacingAndGlyphs">20.74</text>
<text x="288.7" y="1271.0" font-size="24.5" fill="#fdd835" text-anchor="start" textLength="61.3" lengthAdjust="spacingAndGlyphs">32.76</text>
<text x="2332.3" y="175.5" font-size="24.5" fill="#131722" text-anchor="start" textLength="102.5" lengthAdjust="spacingAndGlyphs">2,200.00</text>
<text x="2332.3" y="259.5" font-size="24.5" fill="#131722" text-anchor="start" textLength="102.5" lengthAdjust="spacingAndGlyphs">2,180.00</text>
<text x="2332.3" y="343.6" font-size="24.5" fill="#131722" text-anchor="start" textLength="102.5" lengthAdjust="spacingAndGlyphs">2,160.00</text>
<text x="2332.3" y="427.6" font-size="24.5" fill="#131722" text-anchor="start" textLength="102.5" lengthAdjust="spacingAndGlyphs">2,140.00</text>
<text x="2332.3" y="511.6" font-size="24.5" fill="#131722" text-anchor="start" textLength="102.5" lengthAdjust="spacingAndGlyphs">2,120.00</text>
<text x="2332.3" y="595.6" font-size="24.5" fill="#131722" text-anchor="start" textLength="102.5" lengthAdjust="spacingAndGlyphs">2,100.00</text>
<text x="2332.3" y="679.7" font-size="24.5" fill="#131722" text-anchor="start" textLength="102.5" lengthAdjust="spacingAndGlyphs">2,080.00</text>
<text x="2332.3" y="763.7" font-size="24.5" fill="#131722" text-anchor="start" textLength="102.5" lengthAdjust="spacingAndGlyphs">2,060.00</text>
<text x="2332.3" y="847.7" font-size="24.5" fill="#131722" text-anchor="start" textLength="102.5" lengthAdjust="spacingAndGlyphs">2,040.00</text>
<text x="2332.3" y="931.8" font-size="24.5" fill="#131722" text-anchor="start" textLength="102.5" lengthAdjust="spacingAndGlyphs">2,020.00</text>
<text x="2332.3" y="1015.8" font-size="24.5" fill="#131722" text-anchor="start" textLength="102.5" lengthAdjust="spacingAndGlyphs">2,000.00</text>
<text x="2332.3" y="1099.8" font-size="24.5" fill="#131722" text-anchor="start" textLength="102.5" lengthAdjust="spacingAndGlyphs">1,980.00</text>
<text x="2332.3" y="1183.9" font-size="24.5" fill="#131722" text-anchor="start" textLength="102.5" lengthAdjust="spacingAndGlyphs">1,960.00</text>
<text x="2332.0" y="1293.9" font-size="24.5" fill="#131722" text-anchor="start" textLength="64.5" lengthAdjust="spacingAndGlyphs">70.00</text>
<text x="2332.0" y="1390.1" font-size="24.5" fill="#131722" text-anchor="start" textLength="64.5" lengthAdjust="spacingAndGlyphs">60.00</text>
<text x="2332.0" y="1486.4" font-size="24.5" fill="#131722" text-anchor="start" textLength="64.5" lengthAdjust="spacingAndGlyphs">50.00</text>
<text x="2332.0" y="1582.6" font-size="24.5" fill="#131722" text-anchor="start" textLength="64.5" lengthAdjust="spacingAndGlyphs">40.00</text>
<text x="2332.0" y="1679.9" font-size="24.5" fill="#131722" text-anchor="start" textLength="64.5" lengthAdjust="spacingAndGlyphs">30.00</text>
<rect x="2322.5" y="62.5" width="127" height="51" rx="8" fill="#ffffff" stroke="#ebecef" stroke-width="1.5"/>
<text x="2339.5" y="97.2" font-size="24.5" fill="#131722" text-anchor="start" textLength="63.5" lengthAdjust="spacingAndGlyphs">USDT</text>
<path d="M2316,580.1 H2444 Q2448,580.1 2448,584.1 V610 Q2448,614 2444,614 H2316 Z" fill="#2962ff"/>
<text x="2333.9" y="604.6" font-size="24.5" fill="#ffffff" text-anchor="start" textLength="101.7" lengthAdjust="spacingAndGlyphs">2,097.59</text>
<path d="M2316,1043 H2444 Q2448,1043 2448,1047 V1100.5 Q2448,1104.5 2444,1104.5 H2316 Z" fill="#f23645"/>
<text x="2333.5" y="1067.3" font-size="24.5" fill="#ffffff" text-anchor="start" textLength="102.5" lengthAdjust="spacingAndGlyphs">1,987.52</text>
<text x="2333.5" y="1094.4" font-size="24.5" fill="#ffffff" text-anchor="start" textLength="64.0" lengthAdjust="spacingAndGlyphs">11:12</text>
<path d="M2316,1105 H2426 Q2430,1105 2430,1109 V1134 Q2430,1138 2426,1138 H2316 Z" fill="#ef5350"/>
<text x="2333.5" y="1130.9" font-size="24.5" fill="#ffffff" text-anchor="start" textLength="83.5" lengthAdjust="spacingAndGlyphs">21.77 K</text>
<path d="M2190,1043 H2314 V1077 H2190 Q2184,1077 2184,1071 V1049 Q2184,1043 2190,1043 Z" fill="#f23645"/>
<text x="2194.6" y="1068.8" font-size="24.5" fill="#ffffff" text-anchor="start" textLength="110.2" lengthAdjust="spacingAndGlyphs">ETHUSDT</text>
<path d="M2316,1627 H2405.6 Q2409.6,1627 2409.6,1631 V1656.6 Q2409.6,1660.6 2405.6,1660.6 H2316 Z" fill="#fdd835"/>
<text x="2332.6" y="1652.3" font-size="24.5" fill="#131722" text-anchor="start" textLength="65.4" lengthAdjust="spacingAndGlyphs">32.76</text>
<path d="M2316,1743.5 H2405.6 Q2409.6,1743.5 2409.6,1747.5 V1772.8 Q2409.6,1776.8 2405.6,1776.8 H2316 Z" fill="#7e57c2"/>
<text x="2332.6" y="1768.8" font-size="24.5" fill="#ffffff" text-anchor="start" textLength="65.4" lengthAdjust="spacingAndGlyphs">20.74</text>
<g clip-path="url(#ctime)">
<text x="30.0" y="1850.0" font-size="24.5" fill="#131722" text-anchor="middle" textLength="66.0" lengthAdjust="spacingAndGlyphs">18:00</text>
<text x="164.7" y="1850.0" font-size="24.5" fill="#131722" text-anchor="middle" font-weight="bold" textLength="29.0" lengthAdjust="spacingAndGlyphs">24</text>
<text x="299.5" y="1850.0" font-size="24.5" fill="#131722" text-anchor="middle" textLength="66.0" lengthAdjust="spacingAndGlyphs">06:00</text>
<text x="434.2" y="1850.0" font-size="24.5" fill="#131722" text-anchor="middle" textLength="66.0" lengthAdjust="spacingAndGlyphs">12:00</text>
<text x="569.0" y="1850.0" font-size="24.5" fill="#131722" text-anchor="middle" textLength="66.0" lengthAdjust="spacingAndGlyphs">18:00</text>
<text x="703.7" y="1850.0" font-size="24.5" fill="#131722" text-anchor="middle" font-weight="bold" textLength="29.0" lengthAdjust="spacingAndGlyphs">25</text>
<text x="838.4" y="1850.0" font-size="24.5" fill="#131722" text-anchor="middle" textLength="66.0" lengthAdjust="spacingAndGlyphs">06:00</text>
<text x="973.2" y="1850.0" font-size="24.5" fill="#131722" text-anchor="middle" textLength="66.0" lengthAdjust="spacingAndGlyphs">12:00</text>
<text x="1107.9" y="1850.0" font-size="24.5" fill="#131722" text-anchor="middle" textLength="66.0" lengthAdjust="spacingAndGlyphs">18:00</text>
<text x="1242.7" y="1850.0" font-size="24.5" fill="#131722" text-anchor="middle" font-weight="bold" textLength="29.0" lengthAdjust="spacingAndGlyphs">26</text>
<text x="1377.4" y="1850.0" font-size="24.5" fill="#131722" text-anchor="middle" textLength="66.0" lengthAdjust="spacingAndGlyphs">06:00</text>
<text x="1512.1" y="1850.0" font-size="24.5" fill="#131722" text-anchor="middle" textLength="66.0" lengthAdjust="spacingAndGlyphs">12:00</text>
<text x="1646.9" y="1850.0" font-size="24.5" fill="#131722" text-anchor="middle" textLength="66.0" lengthAdjust="spacingAndGlyphs">18:00</text>
<text x="1781.6" y="1850.0" font-size="24.5" fill="#131722" text-anchor="middle" font-weight="bold" textLength="29.0" lengthAdjust="spacingAndGlyphs">27</text>
<text x="1916.4" y="1850.0" font-size="24.5" fill="#131722" text-anchor="middle" textLength="66.0" lengthAdjust="spacingAndGlyphs">06:00</text>
<text x="2051.1" y="1850.0" font-size="24.5" fill="#131722" text-anchor="middle" textLength="66.0" lengthAdjust="spacingAndGlyphs">12:00</text>
<text x="2185.8" y="1850.0" font-size="24.5" fill="#131722" text-anchor="middle" textLength="66.0" lengthAdjust="spacingAndGlyphs">18:00</text>
<text x="2320.6" y="1850.0" font-size="24.5" fill="#131722" text-anchor="middle" font-weight="bold" textLength="29.0" lengthAdjust="spacingAndGlyphs">28</text>
</g>
<circle cx="2073" cy="1200" r="23" fill="#ffffff"/>
<circle cx="2073" cy="1200" r="19.5" fill="#ffffff" stroke="#9c27b0" stroke-width="2.9"/>
<polygon points="2078.06,1189.02 2079.94,1190.46 2072.86,1198.99 2081.53,1198.99 2081.24,1200.43 2067.94,1210.84 2066.06,1209.54 2072.86,1200.87 2064.62,1200.87 2064.91,1200.09" fill="#9c27b0" stroke="#9c27b0" stroke-width="0.6" stroke-linejoin="round"/>
<path d="M24,1912.2 H47.8 V1941.7 H36 V1923.9 H24 Z" fill="#131722"/>
<circle cx="57.9" cy="1918" r="5.8" fill="#131722"/>
<path d="M70.2,1912.2 H83.8 L71.8,1941.7 H58.1 Z" fill="#131722"/>
<text x="98.0" y="1941.8" font-size="42" fill="#131722" text-anchor="start" font-weight="bold" textLength="241.6" lengthAdjust="spacingAndGlyphs">TradingView</text>
</g>
</svg></body></html>
